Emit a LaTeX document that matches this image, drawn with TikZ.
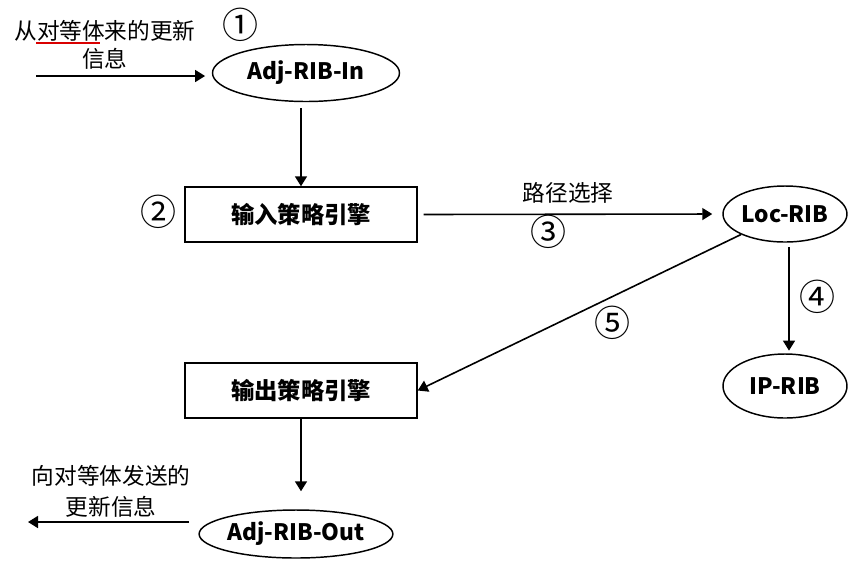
\documentclass[tikz,border=0pt]{standalone}
\usepackage{fontspec}
\newfontfamily\cjk{Noto Sans CJK SC}
\usetikzlibrary{shapes.geometric,arrows.meta}

\begin{document}
\begin{tikzpicture}[x=0.75pt, y=-0.75pt,
    store/.style={ellipse, draw, line width=1.1pt, inner sep=0pt,
      font=\cjk\bfseries\fontsize{17}{20}\selectfont},
    engine/.style={rectangle, draw, line width=1.1pt, inner sep=0pt,
      minimum width=174pt, minimum height=41.25pt,
      font=\cjk\bfseries\fontsize{17.5}{21}\selectfont},
    flow/.style={line width=1.2pt, -{Triangle[length=7.5pt, width=9pt]}},
    note/.style={align=center, inner sep=0pt, font=\cjk\fontsize{17}{20}\selectfont},
    stepno/.style={inner sep=0pt, font=\cjk\fontsize{27}{30}\selectfont}]
  % A step number: #1 = name, #2 = position, #3 = circled digit.
  \newcommand{\steplabel}[3]{\node[stepno] (#1) at (#2) {#3};}

  \useasboundingbox (0,0) rectangle (861,587);

  % the RIBs and the two policy engines
  \node[store, minimum width=140.25pt, minimum height=42.75pt] (adjin)  at (306,73)    {Adj-RIB-In};
  \node[engine]                                               (inpol)  at (301,214.5) {输入策略引擎};
  \node[store, minimum width=93pt, minimum height=42pt]        (locrib) at (785,214)   {Loc-RIB};
  \node[store, minimum width=93pt, minimum height=48pt]        (iprib)  at (785,386)   {IP-RIB};
  \node[engine]                                               (outpol) at (301,390.5) {输出策略引擎};
  \node[store, minimum width=138.75pt, minimum height=36pt]    (adjout) at (296,534)   {Adj-RIB-Out};

  % texts at the flows
  \node[note] (peerin) at (105,45) {从对等体来的更新\\[1pt]信息};
  \draw[red!85!black, line width=1.3pt] (36,43) -- (100,43);
  \node[note] (pathsel) at (568,193) {路径选择};
  \node[note] (peerout) at (111,491.5) {向对等体发送的\\[3pt]更新信息};
  \coordinate (inpeer)  at (36,76);
  \coordinate (outpeer) at (28,522);

  \steplabel{n1}{240,25}{①}
  \steplabel{n2}{158,212}{②}
  \steplabel{n3}{548,232}{③}
  \steplabel{n4}{817,297}{④}
  \steplabel{n5}{612,323}{⑤}

  % flows
  \draw[flow, shorten >=5pt] (inpeer) -- (inpeer -| adjin.west);
  \draw[flow, shorten <=4.5pt] (inpol.north |- adjin.south) -- (inpol.north);
  \draw[flow, shorten <=4.5pt, shorten >=7.5pt] (inpol.east) -- (locrib.west);
  \draw[flow, shorten <=3.5pt, shorten >=2pt] ([xshift=3pt]locrib.south) -- ([xshift=3pt]iprib.north);
  \draw[flow] (locrib.205) -- (outpol.east);
  \draw[flow, shorten >=13.5pt] (outpol.south) -- (outpol.south |- adjout.north);
  \draw[flow, shorten <=7pt] (adjout.west |- outpeer) -- (outpeer);
\end{tikzpicture}
\end{document}
